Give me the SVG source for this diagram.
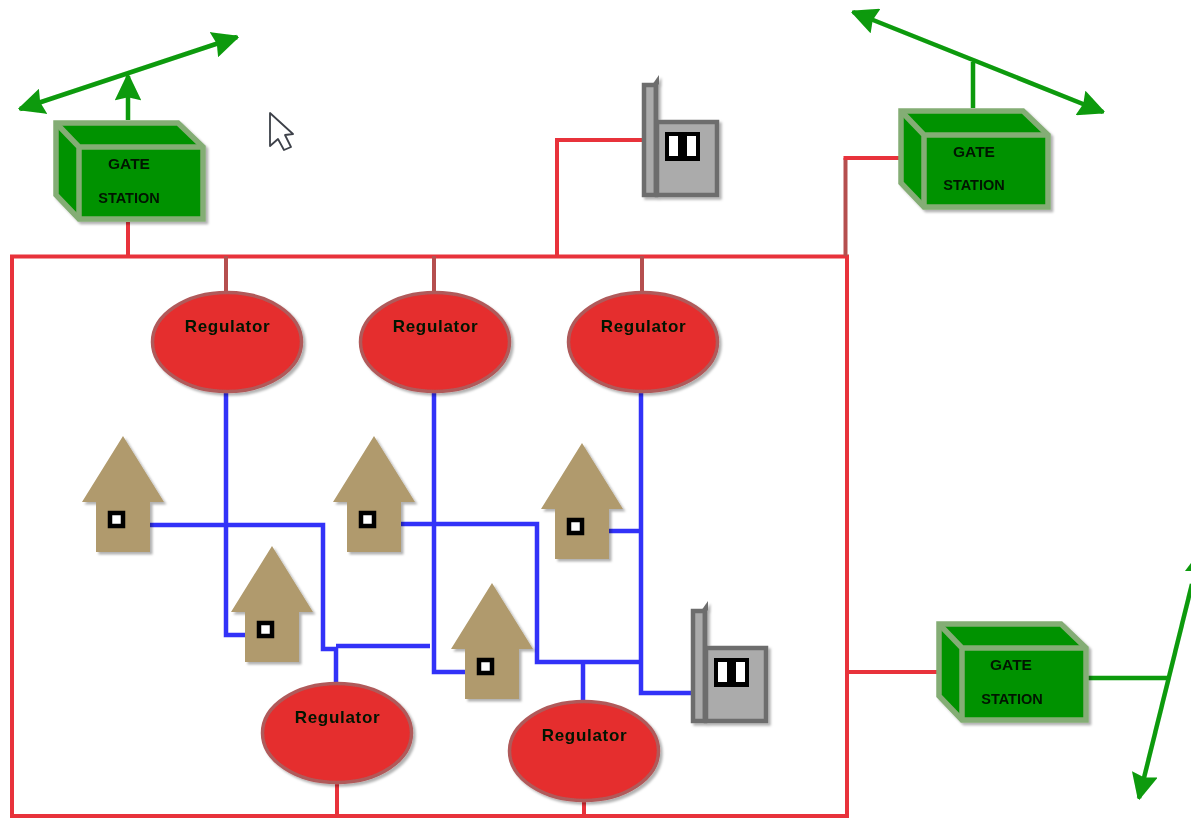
<svg xmlns="http://www.w3.org/2000/svg" width="1191" height="818" viewBox="0 0 1191 818">
<style>
.red{fill:none;stroke:#e8333a;stroke-width:4}
.brn{fill:none;stroke:#b5504f;stroke-width:4}
.blu{fill:none;stroke:#3232f8;stroke-width:4.500}
.grn{fill:none;stroke:#0a9a0a;stroke-width:4.500}
.gbox{fill:#009200;stroke:#84ad74;stroke-width:5.500;stroke-linejoin:miter}
.gedge{fill:none;stroke:#84ad74;stroke-width:5.500}
.reg{fill:#e52d2d;stroke:#b05a5a;stroke-width:3.500}
.hs{fill:#b09a6d}
.mt{fill:#ababab;stroke:#6d6d6d;stroke-width:4.500}
.t{font-family:"Liberation Sans",Arial,sans-serif;font-weight:bold;fill:#001400;text-anchor:middle}
.rt{font-size:17px;letter-spacing:.7px}
.g1{font-size:15.500px}
.g2{font-size:14.500px}
</style>
<defs>
<filter id="soft" x="-2%" y="-2%" width="104%" height="104%"><feGaussianBlur stdDeviation="0.7"/></filter>
<filter id="sh" x="-10%" y="-10%" width="125%" height="125%"><feDropShadow dx="2.500" dy="2.500" stdDeviation="1.200" flood-color="#000" flood-opacity="0.3"/></filter>
<marker id="ah" viewBox="0 0 26 26" refX="24.500" refY="13" markerWidth="26" markerHeight="26" markerUnits="userSpaceOnUse" orient="auto-start-reverse"><path d="M2 2L25 13L2 24L4.500 13Z" fill="#0a9a0a" stroke="#0a9a0a" stroke-width="2.500" stroke-linejoin="miter"/></marker>
<g id="gate-shape" filter="url(#sh)">
<path class="gbox" d="M2 2H124L149 26V98H25L2 74Z"/>
<path class="gedge" d="M2 2L25 26H149M25 26V98"/>
</g>
<g id="house-shape" filter="url(#sh)">
<path class="hs" d="M41 0L82 66H68V116H14V66H0Z"/>
<rect x="28" y="77" width="13" height="13" fill="#fff" stroke="#000" stroke-width="4.500"/>
</g>
<g id="meter-shape" filter="url(#sh)">
<path d="M10 10L17 0V9L14 12Z" fill="#6d6d6d"/>
<rect class="mt" x="2" y="10" width="12" height="110"/>
<rect class="mt" x="15" y="47" width="60" height="73"/>
<path d="M14 8V122" stroke="#6d6d6d" stroke-width="4.500"/>
<rect x="23" y="57" width="35" height="29" fill="#000"/>
<rect x="27" y="61" width="9" height="20" fill="#fff"/>
<rect x="45" y="61" width="9" height="20" fill="#fff"/>
</g>
</defs>
<rect width="1191" height="818" fill="#fff"/>
<g filter="url(#soft)">
<g id="connectors">
<rect class="red" x="12" y="256.500" width="835" height="559.500"/>
<path class="red" d="M128 222V256M557 256V140H642M847 672H937M337 784V816M584 802V816"/>
<path class="brn" d="M845.500 256V158"/>
<path class="red" d="M843.500 158H899"/>
<path class="brn" d="M226 256V292M434 256V292M642 256V292"/>
<path class="blu" d="M226 393V635H245M150 525H323V649H336V684M336 646L430 646M434 392V672H466M400 524H537V662H641M583 662V702M641 392V693H691M609 531H641"/>
<path class="grn" d="M20 109L237 37" marker-start="url(#ah)" marker-end="url(#ah)"/>
<path class="grn" d="M128 120V76" marker-end="url(#ah)"/>
<path class="grn" d="M853 12L1103 112" marker-start="url(#ah)" marker-end="url(#ah)"/>
<path class="grn" d="M973 108V62"/>
<path class="grn" d="M1087 678H1170"/>
<path class="grn" d="M1192 584L1139 798" marker-end="url(#ah)"/>
<path d="M1191 563L1185 571H1191Z" fill="#0a9a0a"/>
</g>
<g id="gate-1"><use href="#gate-shape" x="54" y="121"/><text class="t g1" x="129" y="169">GATE</text><text class="t g2" x="129" y="203">STATION</text></g>
<g id="gate-2"><use href="#gate-shape" x="899" y="109"/><text class="t g1" x="974" y="157">GATE</text><text class="t g2" x="974" y="190">STATION</text></g>
<g id="gate-3"><use href="#gate-shape" x="937" y="622"/><text class="t g1" x="1011" y="670">GATE</text><text class="t g2" x="1012" y="704">STATION</text></g>
<g id="meter-1"><use href="#meter-shape" x="642" y="75"/></g>
<g id="meter-2"><use href="#meter-shape" x="691" y="601"/></g>
<g id="regulator-1"><ellipse class="reg" cx="227" cy="342" rx="74.500" ry="49.500" filter="url(#sh)"/><text class="t rt" x="227.500" y="332">Regulator</text></g>
<g id="regulator-2"><ellipse class="reg" cx="435" cy="342" rx="74.500" ry="49.500" filter="url(#sh)"/><text class="t rt" x="435.500" y="332">Regulator</text></g>
<g id="regulator-3"><ellipse class="reg" cx="643" cy="342" rx="74.500" ry="49.500" filter="url(#sh)"/><text class="t rt" x="643.500" y="332">Regulator</text></g>
<g id="regulator-4"><ellipse class="reg" cx="337" cy="733" rx="74.500" ry="49.500" filter="url(#sh)"/><text class="t rt" x="337.500" y="723">Regulator</text></g>
<g id="regulator-5"><ellipse class="reg" cx="584" cy="751" rx="74.500" ry="49.500" filter="url(#sh)"/><text class="t rt" x="584.500" y="741">Regulator</text></g>
<g id="house-1"><use href="#house-shape" x="82" y="436"/></g>
<g id="house-2"><use href="#house-shape" x="231" y="546"/></g>
<g id="house-3"><use href="#house-shape" x="333" y="436"/></g>
<g id="house-4"><use href="#house-shape" x="541" y="443"/></g>
<g id="house-5"><use href="#house-shape" x="451" y="583"/></g>
<path id="cursor" d="M270 113V146L278 139L284 150L291 147L285 135L293 134Z" fill="#fff" stroke="#3c4048" stroke-width="1.800" stroke-linejoin="round"/>
</g>
</svg>
